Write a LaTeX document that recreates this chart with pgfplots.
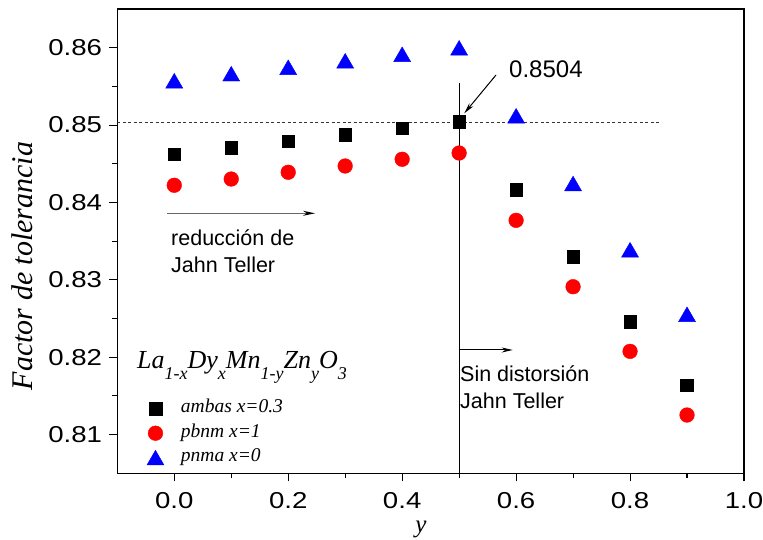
\documentclass[border=0pt]{standalone}
\usepackage{graphicx}
\usepackage{pgfplots}
\pgfplotsset{compat=1.18}
\usepackage{fontspec}
\setmainfont{Liberation Sans}
\newfontfamily\serifit[UprightFont=*-Italic]{Liberation Serif}
\usetikzlibrary{arrows.meta}

% subscript in the italic serif face
\newcommand{\sbs}[1]{\raisebox{-0.42em}{\fontsize{18bp}{18bp}\selectfont #1}}
% tick numbers: Arial-like digits, slightly widened
\newcommand{\tickfmt}[2]{\scalebox{1.2}[1]{\fontsize{23bp}{27bp}\selectfont\pgfmathprintnumber[fixed,fixed zerofill,precision=#1]{#2}}}

\begin{document}
\begin{tikzpicture}
\useasboundingbox (0,0) rectangle (763bp,540bp);
\begin{axis}[
  at={(117.3bp,66.7bp)}, anchor=south west,
  scale only axis, width=626.7bp, height=464.3bp,
  xmin=-0.1, xmax=1.0, ymin=0.805, ymax=0.865,
  xtick={0,0.2,0.4,0.6,0.8,1.0},
  ytick={0.81,0.82,0.83,0.84,0.85,0.86},
  minor x tick num=1, minor y tick num=1,
  tick align=outside, xtick pos=bottom, ytick pos=left,
  major tick length=8bp, minor tick length=5bp,
  axis line style={line width=1.3bp},
  tick style={black, line width=1.1bp},
  /pgf/number format/assume math mode=true,
  xticklabel={\tickfmt{1}{\tick}},
  yticklabel={\tickfmt{2}{\tick}},
  yticklabel style={anchor=east, inner sep=0bp, xshift=-7bp},
  xticklabel style={anchor=north, inner sep=0bp, yshift=-11bp},
  legend cell align=left,
  legend image code/.code={\draw[#1] plot coordinates {(0bp,0bp)};},
  legend style={draw=none, fill=none, at={(0.0423,0.163)}, anchor=north west,
    font=\serifit\fontsize{19.5bp}{22bp}\selectfont,
    row sep=6.4bp,
    nodes={inner sep=0bp, text height=13bp, text depth=5bp},
    /tikz/every odd column/.append style={column sep=17bp}},
]
% ambas, x = 0.3
\addplot[only marks, mark=square*, mark size=6.35bp, black,
  mark options={draw=none, fill=black}] coordinates {
  (0.0,0.84622) (0.1,0.84708) (0.2,0.84790) (0.3,0.84876) (0.4,0.84958)
  (0.5,0.8504) (0.6,0.84165) (0.7,0.83299) (0.8,0.82459) (0.9,0.81637)};
\addlegendentry{ambas x=0.3}
% pbnm, x = 1
\addplot[only marks, mark=*, mark size=7.35bp, red,
  mark options={draw=none, fill=red}] coordinates {
  (0.0,0.84222) (0.1,0.84303) (0.2,0.84390) (0.3,0.84471) (0.4,0.84558)
  (0.5,0.84639) (0.6,0.83769) (0.7,0.82911) (0.8,0.82076) (0.9,0.81253)};
\addlegendentry{pbnm x=1}
% pnma, x = 0
\addplot[only marks, mark=triangle*, mark size=9.8bp, blue,
  mark options={draw=none, fill=blue, yshift=-2.45bp}] coordinates {
  (0.0,0.85573) (0.1,0.85664) (0.2,0.85747) (0.3,0.85831) (0.4,0.85915)
  (0.5,0.85999) (0.6,0.85120) (0.7,0.84245) (0.8,0.83389) (0.9,0.82555)};
\addlegendentry{pnma x=0}

% reference level and boundary at y = 0.5
\draw[black!80, line width=0.8bp, dash pattern=on 3bp off 2.5bp]
  (axis cs:-0.1,0.8504) -- (axis cs:0.852,0.8504);
\draw[black, line width=1bp] (axis cs:0.5,0.805) -- (axis cs:0.5,0.8554);
\end{axis}

% annotations
\draw[black!60, line width=1.3bp, -{Stealth[length=12bp, width=5bp, black]}]
  (167.3bp,326.7bp) -- (315bp,326.7bp);
\node[anchor=base west, inner sep=0bp, font=\fontsize{21.5bp}{26bp}\selectfont]
  at (171bp,294.3bp) {reducción de};
\node[anchor=base west, inner sep=0bp, font=\fontsize{21.5bp}{26bp}\selectfont]
  at (171bp,267.3bp) {Jahn Teller};

\draw[black, line width=1bp, -{Stealth[length=11bp, width=5bp]}]
  (458.5bp,190bp) -- (512.7bp,190bp);
\node[anchor=base west, inner sep=0bp, font=\fontsize{21.5bp}{26bp}\selectfont]
  at (460bp,158.3bp) {Sin distorsión};
\node[anchor=base west, inner sep=0bp, font=\fontsize{21.5bp}{26bp}\selectfont]
  at (460bp,131.7bp) {Jahn Teller};

\draw[black, line width=1bp, -{Stealth[length=11bp, width=5bp]}]
  (496bp,465bp) -- (464.3bp,426.7bp);
\node[anchor=base west, inner sep=0bp, font=\fontsize{24bp}{28bp}\selectfont]
  at (509bp,462.7bp) {0.8504};

% compound formula
\node[anchor=base west, inner sep=0bp, font=\serifit\fontsize{26bp}{30bp}\selectfont]
  at (137bp,171.7bp) {La\sbs{1-x}Dy\sbs{x}Mn\sbs{1-y}Zn\sbs{y}O\sbs{3}};

% axis titles
\node[rotate=90, anchor=base, inner sep=0bp, font=\serifit\fontsize{30bp}{34bp}\selectfont]
  at (32.3bp,274bp) {Factor de tolerancia};
\node[anchor=base, inner sep=0bp, font=\serifit\fontsize{25bp}{29bp}\selectfont]
  at (421bp,7.4bp) {y};
\end{tikzpicture}
\end{document}
